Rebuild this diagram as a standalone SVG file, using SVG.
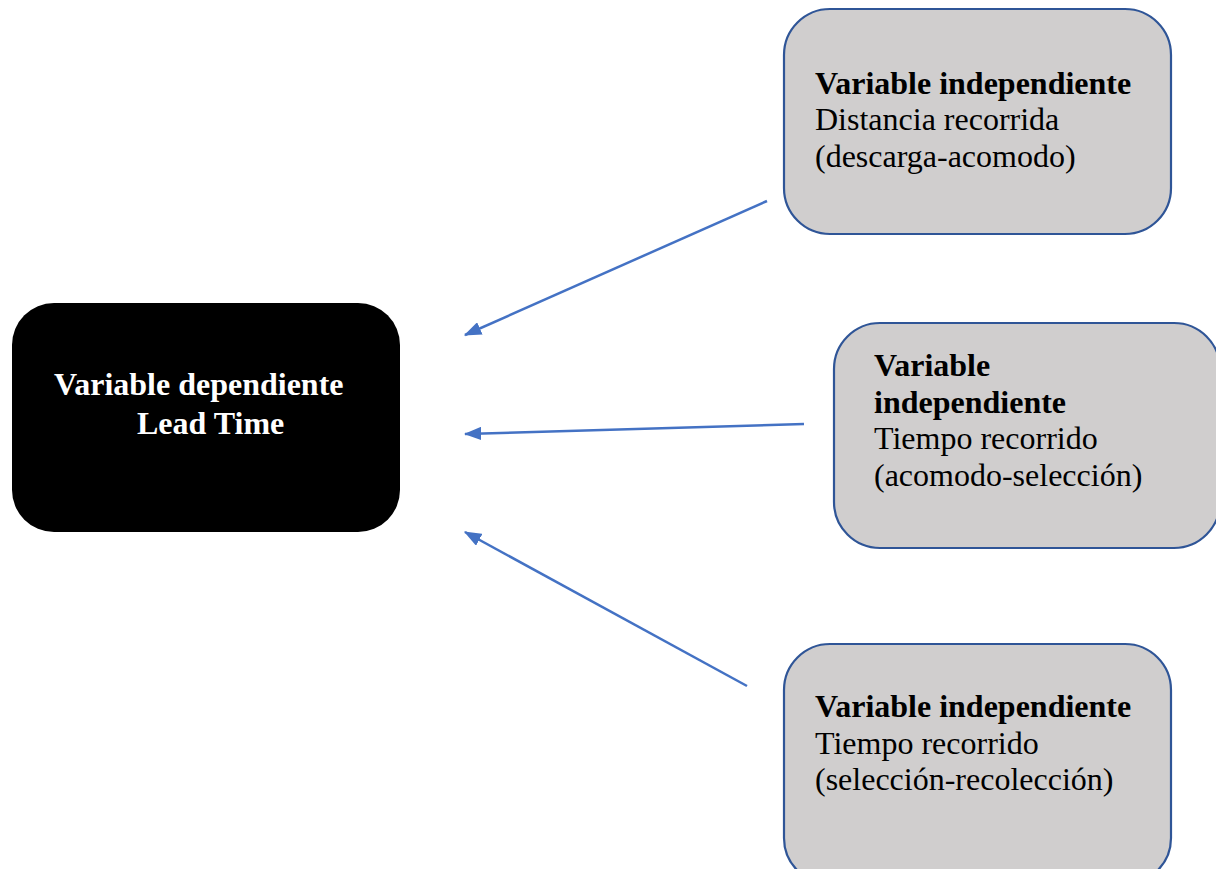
<svg xmlns="http://www.w3.org/2000/svg" width="1216" height="869" viewBox="0 0 1216 869">
<style>
.ind{fill:#D0CECE;stroke:#2F5597;stroke-width:2.2}
.dep{fill:#000000}
.t{font-family:"Liberation Serif","Times New Roman",serif;font-size:32px;fill:#000}
.b{font-weight:bold}
.w{fill:#fff;font-weight:bold}
.c{stroke:#4472C4;stroke-width:2.5;fill:none;marker-end:url(#ah)}
</style>
<defs>
<marker id="ah" markerWidth="7" markerHeight="5.4" refX="6.5" refY="2.7" orient="auto" markerUnits="strokeWidth">
<path d="M0,0 L7,2.7 L0,5.4 Z" fill="#4472C4"/>
</marker>
</defs>
<rect width="1216" height="869" fill="#fff"/>
<g id="dependiente">
<rect class="dep" x="12" y="303" width="388" height="229" rx="42" ry="42"/>
<text class="t w" x="54" y="395">Variable dependiente</text>
<text class="t w" x="137" y="434">Lead Time</text>
</g>
<g id="independiente1">
<rect class="ind" x="784" y="9" width="387" height="225" rx="46" ry="46"/>
<text class="t b" x="815" y="94">Variable independiente</text>
<text class="t" x="815" y="130">Distancia recorrida</text>
<text class="t" x="815" y="167">(descarga-acomodo)</text>
</g>
<g id="independiente2">
<rect class="ind" x="834" y="323" width="386" height="225" rx="46" ry="46"/>
<text class="t b" x="874" y="376">Variable</text>
<text class="t b" x="874" y="413">independiente</text>
<text class="t" x="874" y="449">Tiempo recorrido</text>
<text class="t" x="874" y="486">(acomodo-selección)</text>
</g>
<g id="independiente3">
<rect class="ind" x="784" y="644" width="387" height="240" rx="46" ry="46"/>
<text class="t b" x="815" y="717">Variable independiente</text>
<text class="t" x="815" y="754">Tiempo recorrido</text>
<text class="t" x="815" y="790">(selección-recolección)</text>
</g>
<g id="connectors">
<line class="c" x1="767" y1="201" x2="465" y2="335"/>
<line class="c" x1="804" y1="424" x2="465" y2="434"/>
<line class="c" x1="747" y1="686" x2="465" y2="532"/>
</g>
</svg>
